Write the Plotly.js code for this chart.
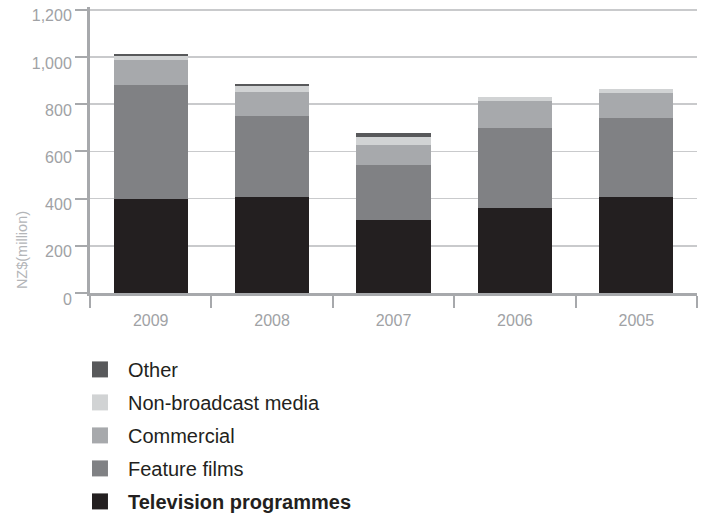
<!DOCTYPE html>
<html>
<head>
<meta charset="utf-8">
<script src="https://cdn.plot.ly/plotly-3.0.1.min.js"></script>
<style>html,body{margin:0;padding:0;background:#fff;}#chart{width:701px;height:517px;}</style>
</head>
<body>
<div id="chart"></div>
<script>
// Data (NZ$ million)
const years = ['2009', '2008', '2007', '2006', '2005'];
const televisionProgrammes = [399, 408, 310, 361, 408];
const featureFilms = [483, 343, 234, 339, 334];
const commercial = [105, 102, 84, 114, 106];
const nonBroadcastMedia = [18, 25, 34, 17, 17];
const other = [8, 8, 17, 0, 0];
const yTickValues = [0, 200, 400, 600, 800, 1000, 1200];
const yTickLabels = ['0', '200', '400', '600', '800', '1,000', '1,200'];

const seriesNames = ['<b>Television programmes</b>', 'Feature films', 'Commercial', 'Non-broadcast media', 'Other'];
const seriesValues = [televisionProgrammes, featureFilms, commercial, nonBroadcastMedia, other];
const seriesColors = ['#231f20', '#808184', '#a7a9ac', '#d1d3d4', '#58595b'];

const traces = [];
seriesValues.forEach((vals, i) => {
  traces.push({
    type: 'bar', x: years, y: vals, name: seriesNames[i],
    marker: {color: seriesColors[i], line: {width: 0}},
    showlegend: false, legendgroup: 'g' + i, hoverinfo: 'x+y'
  });
});
// legend entries, top to bottom: Other ... Television programmes
for (let i = seriesValues.length - 1; i >= 0; i--) {
  traces.push({
    type: 'scatter', mode: 'markers', x: [null], y: [null], name: seriesNames[i],
    marker: {color: seriesColors[i], symbol: 'square', size: 16, line: {width: 0}},
    showlegend: true, legendgroup: 'g' + i
  });
}

const axisGray = '#a7a9ac';
const layout = {
  width: 701, height: 517,
  margin: {l: 90, r: 4, t: 7, b: 224, autoexpand: false},
  paper_bgcolor: '#ffffff', plot_bgcolor: '#ffffff',
  barmode: 'stack', bargap: 0.39,
  font: {family: 'Liberation Sans, Arial, sans-serif', color: '#231f20'},
  xaxis: {
    type: 'category', categoryorder: 'array', categoryarray: years,
    range: [-0.5, 4.5],
    showline: true, linecolor: axisGray, linewidth: 3,
    ticks: 'outside', tickson: 'boundaries', ticklen: 12, tickwidth: 2, tickcolor: axisGray,
    showgrid: false, zeroline: false, ticklabelstandoff: 11,
    tickfont: {size: 16, color: '#a0a2a5'}
  },
  yaxis: {
    range: [0, 1212], tickvals: yTickValues, ticktext: yTickLabels,
    showline: true, linecolor: axisGray, linewidth: 3,
    ticks: 'outside', ticklen: 12, tickwidth: 2, tickcolor: axisGray,
    showgrid: true, gridcolor: '#c9cacc', gridwidth: 1.5,
    zeroline: false, ticklabelshift: 6,
    tickfont: {size: 16, color: '#a0a2a5'}
  },
  showlegend: true,
  legend: {
    x: -0.0297, xanchor: 'left', y: -0.199, yanchor: 'top',
    traceorder: 'grouped', tracegroupgap: 4, itemwidth: 46,
    bgcolor: 'rgba(0,0,0,0)', borderwidth: 0,
    font: {size: 20, color: '#231f20'}
  },
  annotations: [{
    text: 'NZ$(million)', textangle: -90, showarrow: false,
    xref: 'paper', yref: 'paper', x: -0.112, y: 0.150,
    xanchor: 'center', yanchor: 'middle',
    font: {size: 14.5, color: '#b3b5b8'}
  }]
};

Plotly.newPlot('chart', traces, layout, {displayModeBar: false, staticPlot: true});
</script>
</body>
</html>
